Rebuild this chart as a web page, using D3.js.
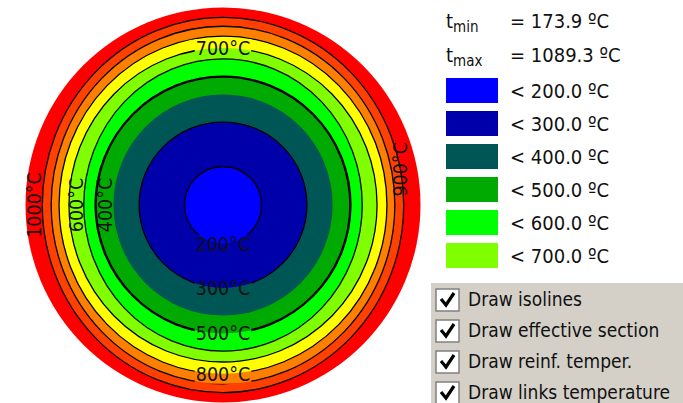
<!DOCTYPE html>
<html>
<head>
<meta charset="utf-8">
<script src="https://cdn.jsdelivr.net/npm/d3@7"></script>
<style>
  html, body { margin: 0; padding: 0; background: #fff; }
  svg { display: block; }
  text { font-family: "DejaVu Sans Condensed", "Liberation Sans", sans-serif; fill: #111; }
</style>
</head>
<body>
<svg id="chart" width="683" height="403"></svg>
<script>
// Cross-section temperature field: isotherm levels and their half-widths/half-heights (mm)
const sectionRadius = 200;
const isoLevels     = [200, 300, 400, 500, 600, 700, 800, 900, 1000];
const isoHalfWidth  = [39, 85, 111, 129, 141, 156, 166, 174, 183];
const isoHalfHeight = [39, 84, 112, 130, 148, 159, 171, 181, 190];
const bandColors = ["#0000FF", "#0000AA", "#005555", "#00AA00", "#00FF00",
                    "#80FF00", "#FFFF00", "#FF8000", "#FF4000", "#FF0000"];
const isolineLevels = [200, 300, 600, 700, 800, 900, 1000];
const effectiveSectionLevel = 500;
const tMin = 173.9;
const tMax = 1089.3;
const legendLevels = [200, 300, 400, 500, 600, 700];
const optionLabels = ["Draw isolines", "Draw effective section", "Draw reinf. temper.", "Draw links temperature"];
// where each isotherm carries its label (angle in degrees, 0 = right, 90 = down)
const labelLevels = [700, 200, 300, 500, 800, 1000, 600, 400, 900];
const labelAngles = [-90, 90, 90, 90, 90, 180, 180, 180, -11];

const svg = d3.select("#chart");
const cx = 223, cy = 205;
const rScale = d3.scaleLinear().domain([0, sectionRadius]).range([0, 197.5]);
const color = d3.scaleThreshold().domain(isoLevels).range(bandColors);

const iso = isoLevels.map((level, i) => ({ level, rx: rScale(isoHalfWidth[i]), ry: rScale(isoHalfHeight[i]) }));
const isoBy = new Map(iso.map(d => [d.level, d]));

const plot = svg.append("g");

// outer section at the hottest band
plot.append("circle").attr("cx", cx).attr("cy", cy).attr("r", rScale(sectionRadius))
  .attr("fill", color(tMax));

// temperature bands, outermost first
plot.selectAll("ellipse.band").data(iso.slice().reverse()).join("ellipse")
  .attr("class", "band")
  .attr("cx", cx).attr("cy", cy)
  .attr("rx", d => d.rx).attr("ry", d => d.ry)
  .attr("fill", d => color(d.level - 0.1));

// label anchor on an isotherm; side labels sit just outside the line and run vertically
function labelPos(level, angle) {
  const d = isoBy.get(level);
  const a = angle * Math.PI / 180;
  const side = Math.abs(Math.cos(a)) > 0.5;
  const off = side ? 8 : 0;
  const x = cx + (d.rx + off) * Math.cos(a);
  const y = cy + (d.ry + off) * Math.sin(a);
  return { x, y, rotate: side ? -90 : 0 };
}
const labels = labelLevels.map((lv, i) => Object.assign({ level: lv }, labelPos(lv, labelAngles[i])));

// mask so isolines break under their labels
const defs = svg.append("defs");
const mask = defs.append("mask").attr("id", "labelMask").attr("maskUnits", "userSpaceOnUse")
  .attr("x", 0).attr("y", 0).attr("width", 683).attr("height", 403);
mask.append("rect").attr("width", 683).attr("height", 403).attr("fill", "#fff");

const lines = plot.append("g").attr("mask", "url(#labelMask)").attr("fill", "none").attr("stroke", "#000");
lines.selectAll("ellipse.iso").data(iso.filter(d => isolineLevels.includes(d.level))).join("ellipse")
  .attr("class", "iso")
  .attr("cx", cx).attr("cy", cy)
  .attr("rx", d => d.rx).attr("ry", d => d.ry)
  .attr("stroke-width", 1.3);
const eff = isoBy.get(effectiveSectionLevel);
lines.append("ellipse").attr("cx", cx).attr("cy", cy)
  .attr("rx", eff.rx).attr("ry", eff.ry).attr("stroke-width", 2.4);

const labelG = plot.append("g");
labels.forEach(l => {
  const t = labelG.append("text")
    .attr("transform", `translate(${l.x},${l.y}) rotate(${l.rotate})`)
    .attr("text-anchor", "middle")
    .attr("dy", "0.36em")
    .style("font-size", "19.5px")
    .text(`${l.level}°C`);
  if (l.rotate === 0) {
    const b = t.node().getBBox();
    mask.append("rect")
      .attr("x", l.x + b.x - 1).attr("y", l.y + b.y + 2)
      .attr("width", b.width + 2).attr("height", b.height - 4)
      .attr("fill", "#000");
  }
});

// legend: extreme temperatures
const leg = svg.append("g");
[["min", tMin, 28], ["max", tMax, 62]].forEach(([sub, val, y]) => {
  const t = leg.append("text").attr("x", 446).attr("y", y).style("font-size", "20px");
  t.append("tspan").text("t");
  t.append("tspan").attr("dy", 4).style("font-size", "15px").text(sub);
  leg.append("text").attr("x", 510).attr("y", y).style("font-size", "20px")
    .text(`= ${val.toFixed(1)} ºC`);
});

// legend: colour bands
const item = leg.selectAll("g.item").data(legendLevels).join("g")
  .attr("class", "item")
  .attr("transform", (d, i) => `translate(446,${78 + i * 33})`);
item.append("rect").attr("width", 52).attr("height", 25)
  .attr("fill", d => color(d - 0.1));
item.append("text").attr("x", 64).attr("y", 20).style("font-size", "20px")
  .text(d => `< ${d.toFixed(1)} ºC`);

// option panel
const panel = svg.append("g");
panel.append("rect").attr("x", 431).attr("y", 283).attr("width", 252).attr("height", 120).attr("fill", "#D4D0C8");
const opt = panel.selectAll("g.opt").data(optionLabels).join("g")
  .attr("class", "opt")
  .attr("transform", (d, i) => `translate(436,${300 + i * 31})`);
opt.append("rect").attr("x", 0).attr("y", -11).attr("width", 23).attr("height", 22)
  .attr("fill", "#fff").attr("stroke", "#808080").attr("stroke-width", 1.5);
opt.append("path").attr("d", "M5,-1 L10,5 L18,-7")
  .attr("fill", "none").attr("stroke", "#000").attr("stroke-width", 3.2);
opt.append("text").attr("x", 32).attr("y", 6).style("font-size", "19px").text(d => d);
</script>
</body>
</html>
